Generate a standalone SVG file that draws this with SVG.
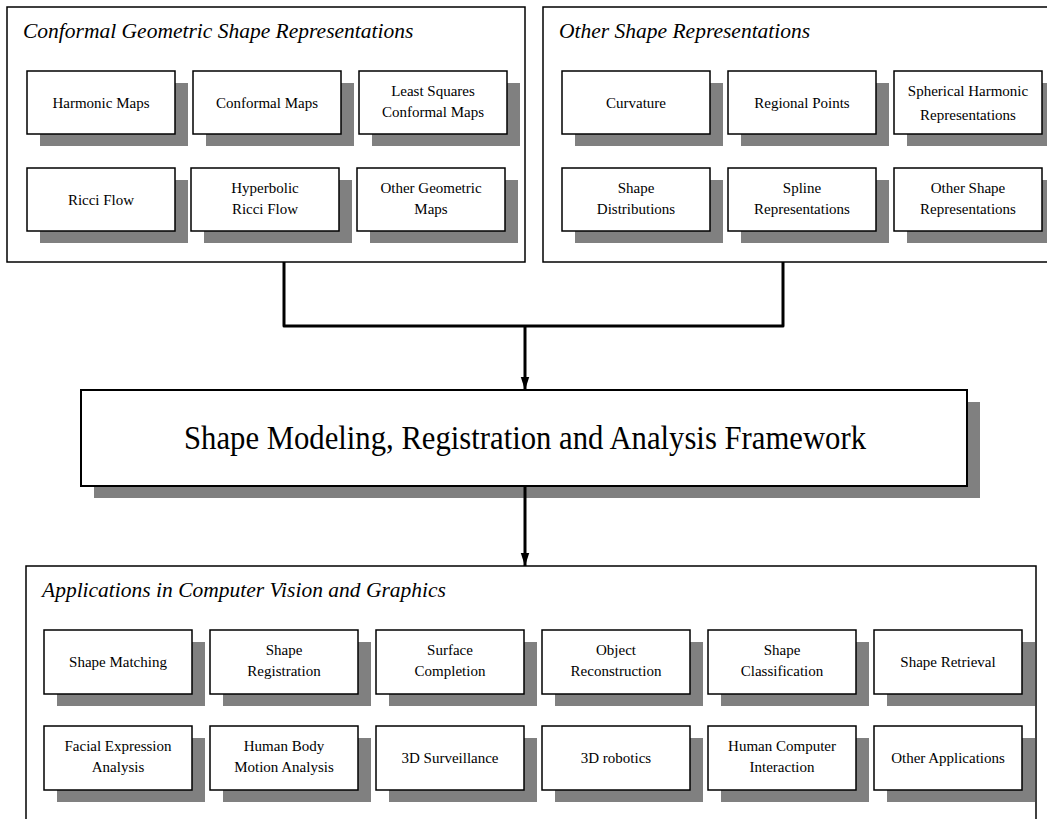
<svg xmlns="http://www.w3.org/2000/svg" width="1047" height="819" viewBox="0 0 1047 819">
<style>
.panel{fill:#fff;stroke:#000;stroke-width:1.5}
.box{fill:#fff;stroke:#000;stroke-width:1.5}
.sh{fill:#808080}
.lbl{font-family:"Liberation Serif","Times New Roman",serif;font-size:15px;text-anchor:middle;fill:#000}
.ttl{font-family:"Liberation Serif","Times New Roman",serif;font-size:21.5px;font-style:italic;fill:#000}
.big{font-family:"Liberation Serif","Times New Roman",serif;font-size:33px;text-anchor:middle;fill:#000}
.conn{fill:none;stroke:#000;stroke-width:3}
</style>
<defs>
<marker id="ah" markerUnits="userSpaceOnUse" markerWidth="13" markerHeight="20" refX="20" refY="6.5" orient="auto" viewBox="0 0 20 13">
<path d="M0,0 L20,6.5 L0,13 Z" fill="#000"/>
</marker>
</defs>
<rect width="1047" height="819" fill="#fff"/>

<g id="panel-conformal">
<rect class="panel" x="7" y="7" width="518" height="255"/>
<text class="ttl" x="23" y="38">Conformal Geometric Shape Representations</text>
</g>
<g id="panel-other">
<rect class="panel" x="543" y="7" width="520" height="255"/>
<text class="ttl" x="559" y="38">Other Shape Representations</text>
</g>
<g id="panel-apps">
<rect class="panel" x="26" y="566" width="1010" height="270"/>
<text class="ttl" x="42" y="597">Applications in Computer Vision and Graphics</text>
</g>

<g id="harmonic"><rect class="sh" x="40" y="83" width="148" height="63"/><rect class="box" x="27" y="71" width="148" height="63"/><text class="lbl" x="101" y="107.5">Harmonic Maps</text></g>
<g id="conformal"><rect class="sh" x="206" y="83" width="148" height="63"/><rect class="box" x="193" y="71" width="148" height="63"/><text class="lbl" x="267" y="107.5">Conformal Maps</text></g>
<g id="lscm"><rect class="sh" x="372" y="83" width="148" height="63"/><rect class="box" x="359" y="71" width="148" height="63"/><text class="lbl" x="433" y="96">Least Squares</text><text class="lbl" x="433" y="117">Conformal Maps</text></g>
<g id="ricci"><rect class="sh" x="40" y="180" width="148" height="63"/><rect class="box" x="27" y="168" width="148" height="63"/><text class="lbl" x="101" y="204.5">Ricci Flow</text></g>
<g id="hyperbolic"><rect class="sh" x="204" y="180" width="148" height="63"/><rect class="box" x="191" y="168" width="148" height="63"/><text class="lbl" x="265" y="193">Hyperbolic</text><text class="lbl" x="265" y="214">Ricci Flow</text></g>
<g id="other-geometric"><rect class="sh" x="370" y="180" width="148" height="63"/><rect class="box" x="357" y="168" width="148" height="63"/><text class="lbl" x="431" y="193">Other Geometric</text><text class="lbl" x="431" y="214">Maps</text></g>

<g id="curvature"><rect class="sh" x="575" y="83" width="148" height="63"/><rect class="box" x="562" y="71" width="148" height="63"/><text class="lbl" x="636" y="107.5">Curvature</text></g>
<g id="regional"><rect class="sh" x="741" y="83" width="148" height="63"/><rect class="box" x="728" y="71" width="148" height="63"/><text class="lbl" x="802" y="107.5">Regional Points</text></g>
<g id="spherical"><rect class="sh" x="907" y="83" width="148" height="63"/><rect class="box" x="894" y="71" width="148" height="63"/><text class="lbl" x="968" y="96">Spherical Harmonic</text><text class="lbl" x="968" y="120">Representations</text></g>
<g id="shape-dist"><rect class="sh" x="575" y="180" width="148" height="63"/><rect class="box" x="562" y="168" width="148" height="63"/><text class="lbl" x="636" y="193">Shape</text><text class="lbl" x="636" y="214">Distributions</text></g>
<g id="spline"><rect class="sh" x="741" y="180" width="148" height="63"/><rect class="box" x="728" y="168" width="148" height="63"/><text class="lbl" x="802" y="193">Spline</text><text class="lbl" x="802" y="214">Representations</text></g>
<g id="other-shape"><rect class="sh" x="907" y="180" width="148" height="63"/><rect class="box" x="894" y="168" width="148" height="63"/><text class="lbl" x="968" y="193">Other Shape</text><text class="lbl" x="968" y="214">Representations</text></g>

<g id="framework"><rect class="sh" x="94" y="402" width="886" height="96"/><rect class="box" x="81" y="390" width="886" height="96" style="stroke-width:2"/><text class="big" x="525" y="449" textLength="682" lengthAdjust="spacingAndGlyphs">Shape Modeling, Registration and Analysis Framework</text></g>

<g id="shape-matching"><rect class="sh" x="57" y="642" width="148" height="64"/><rect class="box" x="44" y="630" width="148" height="64"/><text class="lbl" x="118" y="667">Shape Matching</text></g>
<g id="shape-registration"><rect class="sh" x="223" y="642" width="148" height="64"/><rect class="box" x="210" y="630" width="148" height="64"/><text class="lbl" x="284" y="655">Shape</text><text class="lbl" x="284" y="676">Registration</text></g>
<g id="surface-completion"><rect class="sh" x="389" y="642" width="148" height="64"/><rect class="box" x="376" y="630" width="148" height="64"/><text class="lbl" x="450" y="655">Surface</text><text class="lbl" x="450" y="676">Completion</text></g>
<g id="object-reconstruction"><rect class="sh" x="555" y="642" width="148" height="64"/><rect class="box" x="542" y="630" width="148" height="64"/><text class="lbl" x="616" y="655">Object</text><text class="lbl" x="616" y="676">Reconstruction</text></g>
<g id="shape-classification"><rect class="sh" x="721" y="642" width="148" height="64"/><rect class="box" x="708" y="630" width="148" height="64"/><text class="lbl" x="782" y="655">Shape</text><text class="lbl" x="782" y="676">Classification</text></g>
<g id="shape-retrieval"><rect class="sh" x="887" y="642" width="148" height="64"/><rect class="box" x="874" y="630" width="148" height="64"/><text class="lbl" x="948" y="667">Shape Retrieval</text></g>

<g id="facial"><rect class="sh" x="57" y="738" width="148" height="64"/><rect class="box" x="44" y="726" width="148" height="64"/><text class="lbl" x="118" y="751">Facial Expression</text><text class="lbl" x="118" y="772">Analysis</text></g>
<g id="human-body"><rect class="sh" x="223" y="738" width="148" height="64"/><rect class="box" x="210" y="726" width="148" height="64"/><text class="lbl" x="284" y="751">Human Body</text><text class="lbl" x="284" y="772">Motion Analysis</text></g>
<g id="surveillance"><rect class="sh" x="389" y="738" width="148" height="64"/><rect class="box" x="376" y="726" width="148" height="64"/><text class="lbl" x="450" y="763">3D Surveillance</text></g>
<g id="robotics"><rect class="sh" x="555" y="738" width="148" height="64"/><rect class="box" x="542" y="726" width="148" height="64"/><text class="lbl" x="616" y="763">3D robotics</text></g>
<g id="hci"><rect class="sh" x="721" y="738" width="148" height="64"/><rect class="box" x="708" y="726" width="148" height="64"/><text class="lbl" x="782" y="751">Human Computer</text><text class="lbl" x="782" y="772">Interaction</text></g>
<g id="other-apps"><rect class="sh" x="887" y="738" width="148" height="64"/><rect class="box" x="874" y="726" width="148" height="64"/><text class="lbl" x="948" y="763">Other Applications</text></g>

<g id="connectors">
<path class="conn" d="M284,262 V326 H783 V262" stroke-linejoin="round"/>
<path class="conn" d="M525,326 V390" marker-end="url(#ah)"/>
<path class="conn" d="M525,486 V566" marker-end="url(#ah)"/>
</g>
</svg>
